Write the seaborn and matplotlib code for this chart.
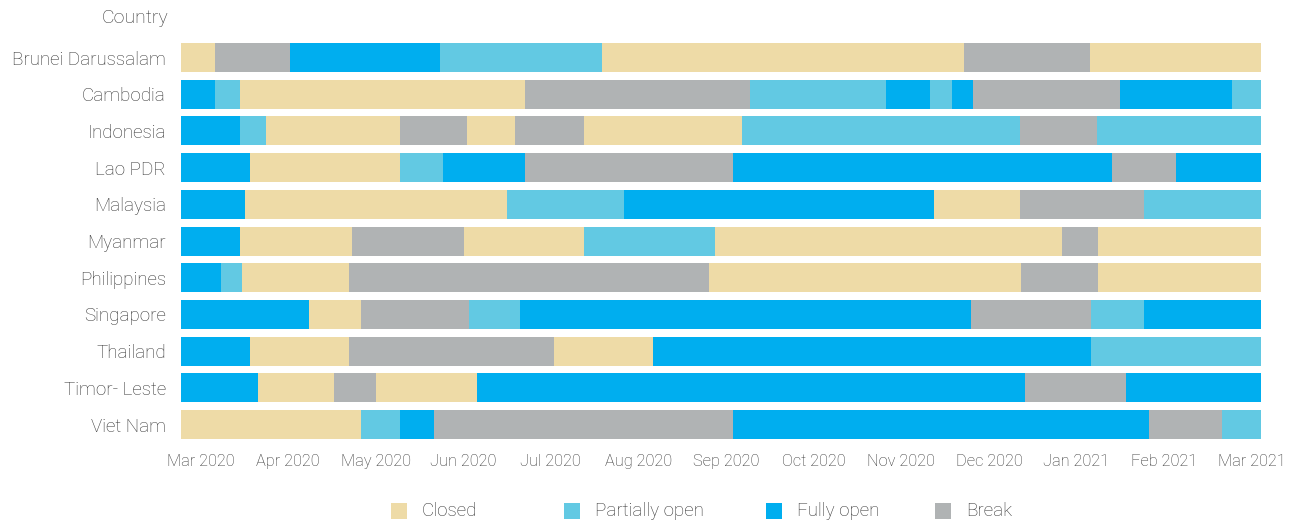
import pandas as pd
import matplotlib
matplotlib.use("Agg")
from matplotlib import pyplot as plt
from matplotlib.patches import Rectangle
import seaborn as sns

# status codes: C closed, P partially open, F fully open, B break
# edges are in months since Mar 2020
countries = ["Brunei Darussalam", "Cambodia", "Indonesia", "Lao PDR", "Malaysia", "Myanmar",
             "Philippines", "Singapore", "Thailand", "Timor- Leste", "Viet Nam"]

brunei_status = ["C", "B", "F", "P", "C", "B", "C"]
brunei_edges = [-0.22, 0.17, 1.02, 2.74, 4.59, 8.72, 10.15, 12.11]

cambodia_status = ["F", "P", "C", "B", "P", "F", "P", "F", "B", "F", "P"]
cambodia_edges = [-0.22, 0.17, 0.45, 3.71, 6.27, 7.82, 8.33, 8.58, 8.82, 10.50, 11.78, 12.11]

indonesia_status = ["F", "P", "C", "B", "C", "B", "C", "P", "B", "P"]
indonesia_edges = [-0.22, 0.45, 0.75, 2.28, 3.04, 3.59, 4.38, 6.18, 9.36, 10.23, 12.11]

lao_status = ["F", "C", "P", "F", "B", "F", "B", "F"]
lao_edges = [-0.22, 0.57, 2.28, 2.77, 3.71, 6.08, 10.40, 11.14, 12.11]

malaysia_status = ["F", "C", "P", "F", "C", "B", "P"]
malaysia_edges = [-0.22, 0.51, 3.50, 4.84, 8.37, 9.36, 10.77, 12.11]

myanmar_status = ["F", "C", "B", "C", "P", "C", "B", "C"]
myanmar_edges = [-0.22, 0.45, 1.73, 3.01, 4.38, 5.87, 9.83, 10.24, 12.11]

philippines_status = ["F", "P", "C", "B", "C", "B", "C"]
philippines_edges = [-0.22, 0.24, 0.48, 1.70, 5.81, 9.37, 10.24, 12.11]

singapore_status = ["F", "C", "B", "P", "F", "B", "P", "F"]
singapore_edges = [-0.22, 1.24, 1.83, 3.07, 3.65, 8.80, 10.17, 10.77, 12.11]

thailand_status = ["F", "C", "B", "C", "F", "P"]
thailand_edges = [-0.22, 0.57, 1.70, 4.04, 5.17, 10.16, 12.11]

timor_status = ["F", "C", "B", "C", "F", "B", "F"]
timor_edges = [-0.22, 0.66, 1.52, 2.00, 3.16, 9.41, 10.56, 12.11]

vietnam_status = ["C", "P", "F", "B", "F", "B", "P"]
vietnam_edges = [-0.22, 1.83, 2.28, 2.67, 6.08, 10.83, 11.66, 12.11]

month_labels = ["Mar 2020", "Apr 2020", "May 2020", "Jun 2020", "Jul 2020", "Aug 2020", "Sep 2020",
                "Oct 2020", "Nov 2020", "Dec 2020", "Jan 2021", "Feb 2021", "Mar 2021"]

status_names = {"C": "Closed", "P": "Partially open", "F": "Fully open", "B": "Break"}
status_colors = {"Closed": "#EEDBA7", "Partially open": "#62C9E3",
                 "Fully open": "#00AEEF", "Break": "#B0B3B4"}

all_status = [brunei_status, cambodia_status, indonesia_status, lao_status, malaysia_status,
              myanmar_status, philippines_status, singapore_status, thailand_status,
              timor_status, vietnam_status]
all_edges = [brunei_edges, cambodia_edges, indonesia_edges, lao_edges, malaysia_edges,
             myanmar_edges, philippines_edges, singapore_edges, thailand_edges,
             timor_edges, vietnam_edges]

# long table, one row per segment; layer 0 = last segment of each row
rows = []
for country, stat, edges in zip(countries, all_status, all_edges):
    n = len(stat)
    for i, s in enumerate(stat):
        rows.append({"country": country, "status": status_names[s],
                     "start": edges[i], "end": edges[i + 1], "layer": n - 1 - i})
df = pd.DataFrame(rows)
x0 = min(e[0] for e in all_edges)
x1 = max(e[-1] for e in all_edges)
df["end_shift"] = df["end"] - x0

sns.set_style("white")
plt.rcParams["font.family"] = ["Roboto", "DejaVu Sans"]
plt.rcParams["font.weight"] = "light"
text_color = "#333333"

W, H = 1296, 521
fig = plt.figure(figsize=(W / 100, H / 100), dpi=100)
ax = fig.add_axes([0.1397, 0.150, 0.8336, 0.7748])

# bars drawn from the axis start, longest first, so shorter ones sit on top
for layer in sorted(df["layer"].unique()):
    sub = df[df["layer"] == layer]
    sns.barplot(data=sub, x="end_shift", y="country", hue="status",
                hue_order=list(status_colors), palette=status_colors, order=countries,
                orient="h", dodge=False, width=0.79, saturation=1, errorbar=None,
                legend=False, linewidth=0, ax=ax)

ax.set_xlim(0, x1 - x0)
ax.set_ylim(len(countries) - 0.5, -0.5)
ax.set_xticks([i - x0 for i in range(len(month_labels))])
ax.set_xticklabels(month_labels)
ax.set_xlabel("")
ax.set_ylabel("")
ax.tick_params(axis="x", length=0, pad=8, labelsize=11.8, labelcolor=text_color)
ax.tick_params(axis="y", length=0, pad=11, labelsize=13.5, labelcolor=text_color)
sns.despine(ax=ax, left=True, bottom=True)

fig.text(168 / W, 1 - 18 / H, "Country", ha="right", va="center",
         fontsize=14, color=text_color)

# legend row at the bottom, items placed like in the original
legend_x = [391, 564, 766, 935]
for px, (name, color) in zip(legend_x, status_colors.items()):
    fig.patches.append(Rectangle((px / W, 1 - 519 / H), 16 / W, 16 / H,
                                 transform=fig.transFigure, facecolor=color, edgecolor="none"))
    fig.text((px + 31) / W, 1 - 511 / H, name, ha="left", va="center",
             fontsize=13.5, color=text_color)

fig.savefig("out.png", dpi=100)
